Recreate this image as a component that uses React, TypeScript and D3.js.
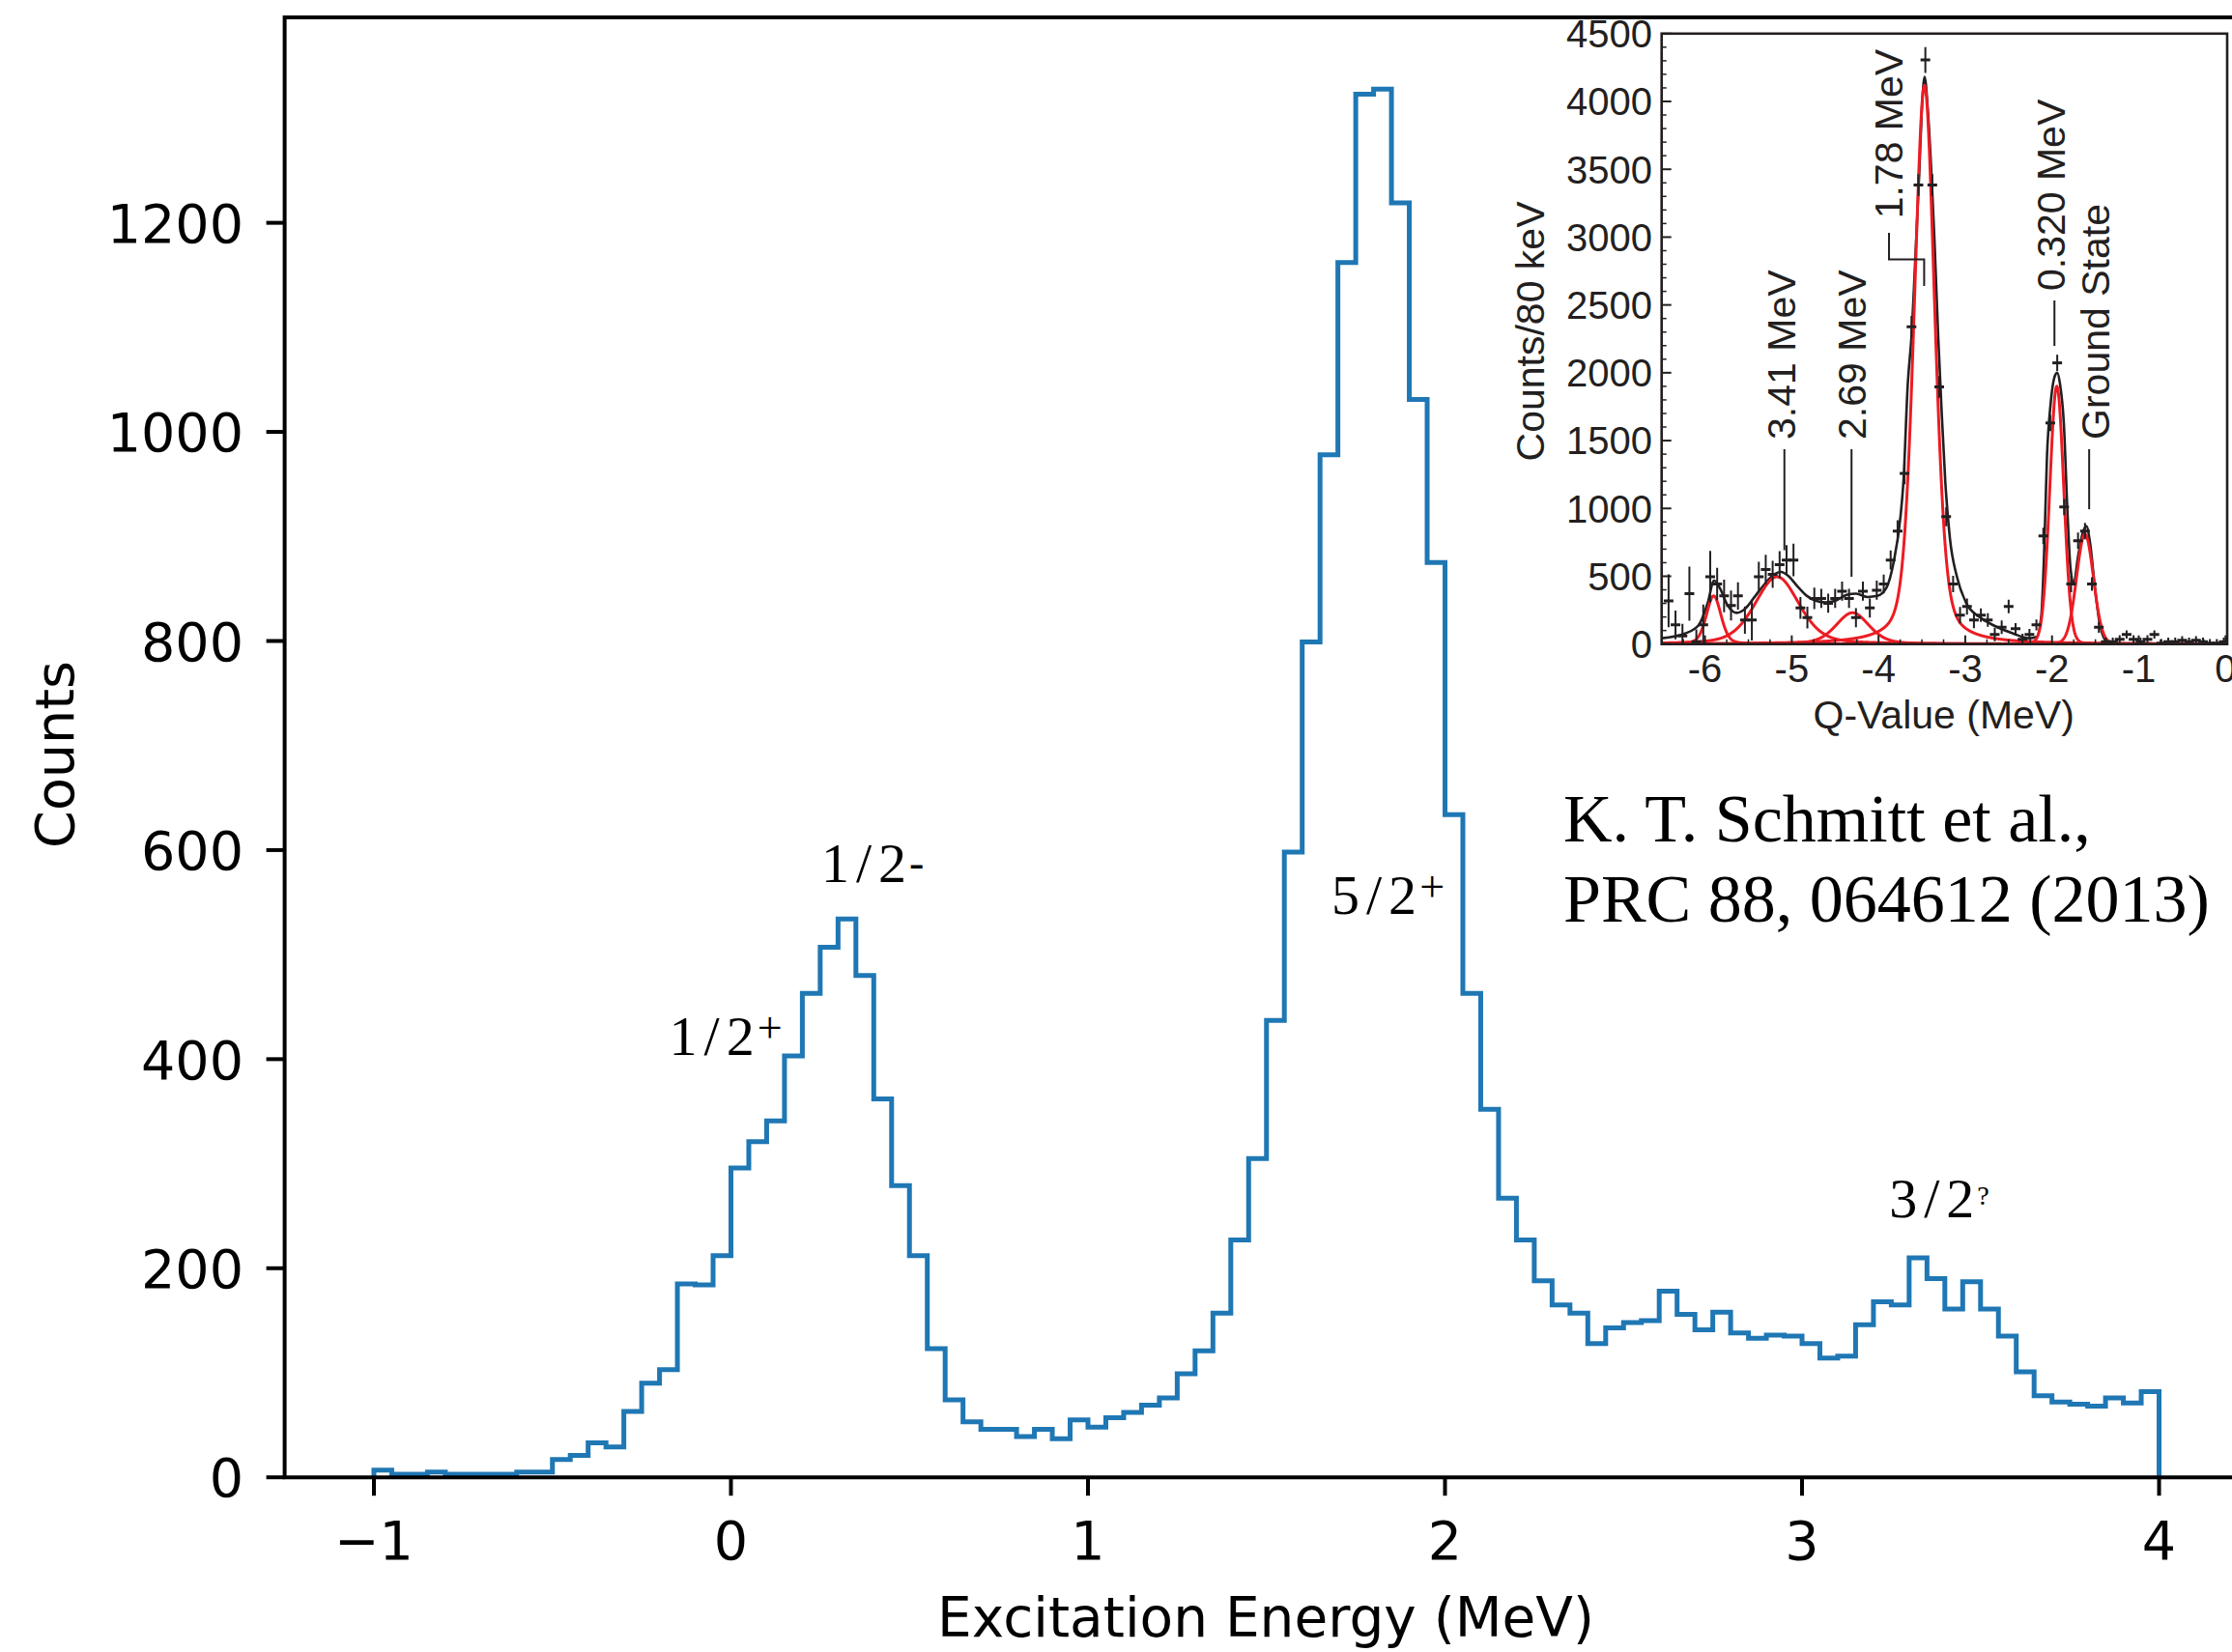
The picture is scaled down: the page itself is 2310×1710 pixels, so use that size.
import React from 'react';
import * as d3 from 'd3';

// ---------------- main histogram data ----------------
const histStart = -1;
const histBinWidth = 0.05;
const histCounts = [
  7, 3, 3, 5, 3, 3, 3, 3, 5, 5,
  17, 21, 33, 29, 63, 90, 103, 185, 184, 212,
  296, 321, 341, 403, 463, 507, 534, 480, 362, 279,
  212, 123, 74, 53, 46, 46, 39, 46, 37, 55,
  48, 57, 62, 69, 76, 99, 121, 157, 227, 305,
  437, 598, 799, 978, 1162, 1323, 1328, 1219, 1031, 875,
  634, 463, 352, 267, 227, 188, 165, 157, 128, 143,
  148, 150, 178, 156, 141, 158, 138, 133, 136, 135,
  128, 114, 116, 146, 168, 165, 210, 190, 161, 187,
  161, 135, 101, 78, 72, 70, 68, 76, 71, 82,
];
const xTicks = [-1, 0, 1, 2, 3, 4];
const yTicks = [0, 200, 400, 600, 800, 1000, 1200];

// spin-parity annotations
const jpMain = ['1/2', '1/2', '5/2', '3/2'];
const jpSup = ['+', '-', '+', '?'];
const jpE = [-0.173, 0.253, 1.682, 3.244];
const jpCounts = [404, 569, 539, 249];

// ---------------- inset data ----------------
const insetFirstQ = -6.42;
const insetStep = 0.08;
const insetCounts = [
  319, 142, 60, 372, 18, 142, 496, 443, 355, 284,
  355, 177, 177, 496, 549, 514, 585, 620, 620, 266,
  195, 337, 337, 301, 337, 390, 337, 195, 390, 266,
  397, 443, 620, 833, 1258, 2339, 3384, 4306, 3384, 1896,
  939, 443, 213, 277, 177, 213, 177, 71, 124, 277,
  114, 36, 71, 142, 797, 1630, 2073, 1010, 443, 762,
  833, 443, 124, 18, 18, 36, 71, 36, 18, 36,
  71, 7, 18, 18, 29, 18, 29, 18, 7, 7,
  18,
];
const insetErrors = [
  195, 106, 90, 200, 90, 150, 190, 120, 120, 110,
  100, 100, 150, 110, 110, 100, 100, 110, 120, 80,
  80, 80, 70, 70, 70, 70, 70, 70, 70, 70,
  70, 70, 70, 80, 80, 80, 80, 95, 80, 80,
  70, 60, 60, 60, 60, 50, 50, 50, 50, 50,
  40, 40, 40, 40, 60, 60, 60, 60, 60, 60,
  60, 50, 40, 30, 30, 30, 30, 30, 30, 30,
  30, 30, 30, 30, 30, 30, 30, 30, 30, 30,
  30,
];

// total fit (black)
const fitQ = [
  -6.5, -6.23, -6.07, -5.97, -5.895, -5.825, -5.744, -5.636, -5.528, -5.42,
  -5.312, -5.204, -5.123, -5.042, -4.933, -4.825, -4.717, -4.609, -4.501, -4.366,
  -4.258, -4.123, -4.015, -3.907, -3.826, -3.745, -3.712, -3.663, -3.62, -3.566,
  -3.528, -3.501, -3.469, -3.431, -3.393, -3.355, -3.312, -3.274, -3.231, -3.177,
  -3.096, -2.988, -2.826, -2.664, -2.448, -2.259, -2.178, -2.123, -2.091, -2.058,
  -2.016, -1.972, -1.94, -1.907, -1.864, -1.821, -1.788, -1.75, -1.702, -1.648,
  -1.605, -1.561, -1.507, -1.448, -1.367, -1.259, -0.8, 0,
];
const fitCounts = [
  43, 78, 142, 301, 468, 408, 291, 230, 266, 355,
  443, 514, 532, 503, 425, 355, 319, 308, 319, 362,
  372, 347, 355, 418, 603, 950, 1205, 1914, 2268, 2977,
  3508, 3934, 4182, 3934, 3508, 2977, 2268, 1737, 1205, 780,
  496, 301, 195, 135, 78, 43, 53, 213, 673, 1382,
  1772, 1967, 2000, 1914, 1630, 957, 567, 443, 638, 815,
  870, 744, 425, 142, 18, 0, 0, 0,
];

// fit components (red): centroid, height, FWHM, Lorentz fraction
const compCenters = [-5.9, -5.17, -4.3, -3.47, -1.945, -1.62];
const compHeights = [355, 496, 231, 4118, 1900, 810];
const compFwhm = [0.2, 0.6, 0.45, 0.28, 0.19, 0.23];
const compEta = [0.3, 0.35, 0.35, 0.35, 0.05, 0.05];

const insetXTicks = [-6, -5, -4, -3, -2, -1, 0];
const insetYTicks = [0, 500, 1000, 1500, 2000, 2500, 3000, 3500, 4000, 4500];

const stateLabels = ['3.41 MeV', '2.69 MeV', '1.78 MeV', '0.320 MeV', 'Ground State'];
const stateLabelQ = [-4.958, -4.15, -3.72, -1.853, -1.34];
const stateLabelC = [1508, 1508, 3136, 2604, 1508];

const pv = (q: number, c: number, h: number, f: number, eta: number) => {
  const t = (q - c) / (f / 2);
  return h * (eta / (1 + t * t) + (1 - eta) * Math.exp(-Math.LN2 * t * t));
};

export default function App() {
  // main axes
  const x = d3.scaleLinear().domain([-1.25, 4.25]).range([294.6, 2326.9]);
  const y = d3.scaleLinear().domain([0, 1396.5]).range([1529.2, 18]);

  const stepPts: [number, number][] = [[histStart, 0]];
  histCounts.forEach((c, i) => {
    stepPts.push([histStart + i * histBinWidth, c]);
    stepPts.push([histStart + (i + 1) * histBinWidth, c]);
  });
  stepPts.push([histStart + histCounts.length * histBinWidth, 0]);
  const stepLine = d3
    .line<[number, number]>()
    .x((d) => x(d[0]))
    .y((d) => y(d[1]));

  // inset axes
  const xi = d3.scaleLinear().domain([-6.5, 0]).range([1719.7, 2303.3]);
  const yi = d3.scaleLinear().domain([0, 4500]).range([666.7, 34.8]);

  const qGrid = d3.range(-6.5, 0.0001, 0.004);
  const compLine = d3
    .line<number[]>()
    .x((d) => xi(d[0]))
    .y((d) => yi(d[1]));
  const comps = compCenters.map((c, k) =>
    compLine(qGrid.map((q) => [q, pv(q, c, compHeights[k], compFwhm[k], compEta[k])]))
  );
  const fitLine = d3
    .line<number>()
    .x((_, i) => xi(fitQ[i]))
    .y((d) => yi(d))
    .curve(d3.curveMonotoneX);

  const mainFont = 'DejaVu Sans, sans-serif';
  const insetFont = 'Liberation Sans, Arial, sans-serif';
  const serif = 'Liberation Serif, Times New Roman, serif';
  const fs = 55.5;
  const ifs = 40;
  const ink = '#231f20';
  const red = '#ec1c24';

  const minorY = d3.range(0, 4501, 100).filter((v) => v % 500 !== 0);
  const minorX = d3.range(-6.25, 0, 0.25).filter((v) => Math.abs(v - Math.round(v)) > 0.01);

  return (
    <svg
      width={2310}
      height={1710}
      viewBox="0 0 2310 1710"
      style={{ position: 'absolute', left: 0, top: 0, background: '#fff' }}
    >
      <rect x={0} y={0} width={2310} height={1710} fill="#fff" />

      {/* histogram */}
      <path
        d={stepLine(stepPts) || ''}
        fill="none"
        stroke="#1f77b4"
        strokeWidth={5}
        strokeLinejoin="miter"
      />

      {/* main spines */}
      <line x1={294.6} x2={2310} y1={18} y2={18} stroke="#000" strokeWidth={4} />
      <line x1={294.6} x2={294.6} y1={16} y2={1531} stroke="#000" strokeWidth={4} />
      <line x1={292.6} x2={2310} y1={1529.2} y2={1529.2} stroke="#000" strokeWidth={4} />

      {/* main ticks */}
      {yTicks.map((v) => (
        <g key={'yt' + v}>
          <line x1={275.6} x2={294.6} y1={y(v)} y2={y(v)} stroke="#000" strokeWidth={4} />
          <text x={252} y={y(v) + 20.2} fontFamily={mainFont} fontSize={fs} textAnchor="end" fill="#000">
            {v}
          </text>
        </g>
      ))}
      {xTicks.map((v) => (
        <g key={'xt' + v}>
          <line x1={x(v)} x2={x(v)} y1={1529.2} y2={1548.2} stroke="#000" strokeWidth={4} />
          <text x={x(v)} y={1614} fontFamily={mainFont} fontSize={fs} textAnchor="middle" fill="#000">
            {v < 0 ? '\u2212' + Math.abs(v) : String(v)}
          </text>
        </g>
      ))}
      <text x={1310} y={1694} fontFamily={mainFont} fontSize={56.5} textAnchor="middle" fill="#000">
        Excitation Energy (MeV)
      </text>
      <text
        transform="translate(76,781) rotate(-90)"
        fontFamily={mainFont}
        fontSize={fs}
        textAnchor="middle"
        fill="#000"
      >
        Counts
      </text>

      {/* Jπ annotations */}
      {jpMain.map((t, i) => (
        <text
          key={'jp' + i}
          x={x(jpE[i])}
          y={y(jpCounts[i])}
          fontFamily={serif}
          fontSize={58}
          fill="#000"
        >
          <tspan letterSpacing={7}>{t}</tspan>
          <tspan
            fontSize={jpSup[i] === '?' ? 28 : 46}
            dy={jpSup[i] === '-' ? -5 : -13}
            dx={jpSup[i] === '?' ? -4 : -4}
          >
            {jpSup[i]}
          </tspan>
        </text>
      ))}

      {/* citation */}
      <text x={1618} y={871} fontFamily={serif} fontSize={70} fill="#000">
        K. T. Schmitt et al.,
      </text>
      <text x={1618} y={954} fontFamily={serif} fontSize={70} fill="#000">
        PRC 88, 064612 (2013)
      </text>

      {/* ---------------- inset ---------------- */}
      <defs>
        <clipPath id="insetClip">
          <rect x={1719.7} y={34.8} width={2303.3 - 1719.7} height={666.7 - 34.8} />
        </clipPath>
      </defs>
      <g clipPath="url(#insetClip)">
        <path d={fitLine(fitCounts) || ''} fill="none" stroke={ink} strokeWidth={2.6} />
        {comps.map((d, k) => (
          <path key={'c' + k} d={d || ''} fill="none" stroke={red} strokeWidth={3} />
        ))}
        {insetCounts.map((c, i) => {
          const q = insetFirstQ + i * insetStep;
          const e = insetErrors[i];
          return (
            <g key={'p' + i} stroke={ink}>
              <line x1={xi(q)} x2={xi(q)} y1={yi(c - e)} y2={yi(c + e)} strokeWidth={2} />
              <line x1={xi(q) - 5} x2={xi(q) + 5} y1={yi(c)} y2={yi(c)} strokeWidth={3} />
            </g>
          );
        })}
      </g>

      {/* inset frame */}
      <rect
        x={1719.7}
        y={34.8}
        width={2305 - 1719.7}
        height={666.7 - 34.8}
        fill="none"
        stroke={ink}
        strokeWidth={2.6}
      />
      {insetYTicks.map((v) => (
        <g key={'iy' + v}>
          <line x1={1719.7} x2={1729.7} y1={yi(v)} y2={yi(v)} stroke={ink} strokeWidth={2} />
          <text x={1710} y={yi(v) + 14.3} fontFamily={insetFont} fontSize={ifs} textAnchor="end" fill={ink}>
            {v}
          </text>
        </g>
      ))}
      {minorY.map((v) => (
        <line key={'imy' + v} x1={1719.7} x2={1724.7} y1={yi(v)} y2={yi(v)} stroke={ink} strokeWidth={1.5} />
      ))}
      {insetXTicks.map((v) => (
        <g key={'ix' + v}>
          <line x1={xi(v)} x2={xi(v)} y1={666.7} y2={657.7} stroke={ink} strokeWidth={2} />
          <text x={xi(v)} y={706} fontFamily={insetFont} fontSize={ifs} textAnchor="middle" fill={ink}>
            {String(v)}
          </text>
        </g>
      ))}
      {minorX.map((v) => (
        <line key={'imx' + v} x1={xi(v)} x2={xi(v)} y1={666.7} y2={661.7} stroke={ink} strokeWidth={1.5} />
      ))}
      <text x={2011.7} y={753.7} fontFamily={insetFont} fontSize={41} textAnchor="middle" fill={ink}>
        Q-Value (MeV)
      </text>
      <text
        transform="translate(1598,343) rotate(-90)"
        fontFamily={insetFont}
        fontSize={41}
        textAnchor="middle"
        fill={ink}
      >
        Counts/80 keV
      </text>

      {/* state labels */}
      {stateLabels.map((t, i) => (
        <text
          key={'sl' + i}
          transform={`translate(${xi(stateLabelQ[i])},${yi(stateLabelC[i])}) rotate(-90)`}
          fontFamily={insetFont}
          fontSize={41}
          fill={ink}
        >
          {t}
        </text>
      ))}
      {/* leader lines */}
      <g stroke={ink} strokeWidth={2} fill="none">
        <line x1={xi(-5.085)} x2={xi(-5.085)} y1={yi(1437)} y2={yi(692)} />
        <line x1={xi(-4.311)} x2={xi(-4.311)} y1={yi(1437)} y2={yi(496)} />
        <polyline
          points={`${xi(-3.879)},${yi(3032)} ${xi(-3.879)},${yi(2835)} ${xi(-3.474)},${yi(2835)} ${xi(-3.474)},${yi(2640)}`}
        />
        <line x1={xi(-1.972)} x2={xi(-1.972)} y1={yi(2533)} y2={yi(2198)} />
        <line x1={xi(-1.572)} x2={xi(-1.572)} y1={yi(1437)} y2={yi(994)} />
      </g>
    </svg>
  );
}
